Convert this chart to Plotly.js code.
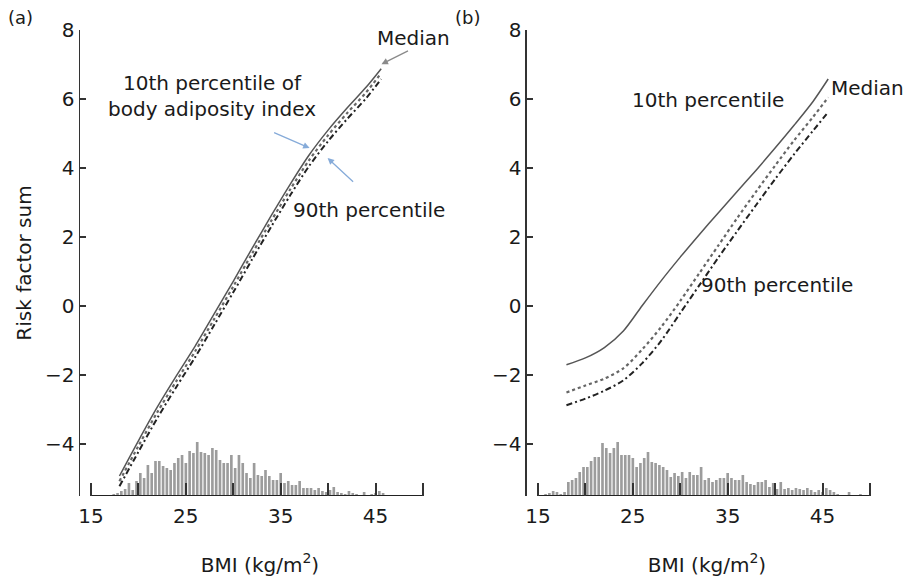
<!DOCTYPE html>
<html><head><meta charset="utf-8">
<script src="https://cdn.plot.ly/plotly-3.0.1.min.js"></script>
<style>html,body{margin:0;padding:0;background:#fff}#chart{width:911px;height:583px}</style>
</head><body><div id="chart"></div>
<script>
// BMI points where the fitted curves are read
const bmiLine = [18, 20, 22, 24, 26, 28, 30, 32, 34, 36, 38, 40, 42, 44, 45.6];
// Panel (a): percentiles of body adiposity index
const a10  = [-4.92, -3.90, -2.92, -2.02, -1.15, -0.22, 0.72, 1.68, 2.62, 3.53, 4.38, 5.10, 5.74, 6.34, 6.88];
const aMed = [-5.07, -4.05, -3.07, -2.17, -1.30, -0.37, 0.57, 1.53, 2.47, 3.38, 4.23, 4.95, 5.59, 6.19, 6.75];
const a90  = [-5.22, -4.22, -3.24, -2.34, -1.47, -0.54, 0.40, 1.36, 2.30, 3.21, 4.06, 4.78, 5.42, 6.02, 6.58];
// Panel (b)
const b10  = [-1.70, -1.50, -1.20, -0.72, 0.02, 0.74, 1.42, 2.07, 2.70, 3.32, 3.94, 4.58, 5.24, 5.93, 6.58];
const bMed = [-2.50, -2.30, -2.10, -1.80, -1.25, -0.60, 0.15, 0.95, 1.75, 2.55, 3.32, 4.07, 4.80, 5.48, 6.05];
const b90  = [-2.87, -2.68, -2.45, -2.15, -1.65, -1.00, -0.20, 0.60, 1.40, 2.17, 2.93, 3.68, 4.40, 5.08, 5.62];

// Histogram of BMI (bin centres and relative counts)
const bmiBins = [15.0, 15.4, 15.8, 16.2, 16.6, 17.0, 17.4, 17.8, 18.2, 18.6,
  19.0, 19.4, 19.8, 20.2, 20.6, 21.0, 21.4, 21.8, 22.2, 22.6,
  23.0, 23.4, 23.8, 24.2, 24.6, 25.0, 25.4, 25.8, 26.2, 26.6,
  27.0, 27.4, 27.8, 28.2, 28.6, 29.0, 29.4, 29.8, 30.2, 30.6,
  31.0, 31.4, 31.8, 32.2, 32.6, 33.0, 33.4, 33.8, 34.2, 34.6,
  35.0, 35.4, 35.8, 36.2, 36.6, 37.0, 37.4, 37.8, 38.2, 38.6,
  39.0, 39.4, 39.8, 40.2, 40.6, 41.0, 41.4, 41.8, 42.2, 42.6,
  43.0, 43.4, 43.8, 44.2, 44.6, 45.0, 45.4, 45.8, 46.2, 46.6,
  47.0, 47.4, 47.8, 48.2, 48.6, 49.0, 49.4, 49.8];
const countsA = [0, 1, 1, 1, 1, 1, 2, 3, 5, 7,
  13, 6, 15, 23, 18, 31, 23, 35, 35, 30,
  28, 26, 33, 38, 41, 33, 45, 43, 54, 44,
  43, 41, 48, 46, 36, 33, 33, 41, 28, 41,
  33, 23, 18, 33, 21, 20, 26, 20, 16, 16,
  23, 13, 15, 11, 11, 15, 8, 8, 8, 6,
  8, 5, 4, 6, 9, 4, 3, 2, 5, 3,
  2, 1, 4, 1, 2, 3, 5, 3, 1, 1,
  1, 0, 1, 0, 1, 0, 0, 1];
const countsB = [0, 1, 2, 3, 5, 4, 2, 4, 14, 16,
  18, 24, 29, 29, 35, 39, 39, 53, 48, 43,
  48, 54, 41, 41, 41, 38, 29, 33, 38, 44,
  34, 33, 31, 29, 26, 19, 23, 20, 24, 18,
  24, 21, 21, 29, 16, 18, 14, 16, 18, 18,
  23, 18, 16, 16, 21, 14, 12, 11, 14, 14,
  16, 9, 13, 7, 14, 7, 8, 6, 8, 7,
  6, 8, 6, 4, 6, 4, 8, 6, 4, 2,
  1, 1, 4, 1, 1, 2, 1, 1];

const xTickVals = [15, 20, 25, 30, 35, 40, 45, 50];
const xTickText = ["15", "", "25", "", "35", "", "45", ""];
const yTickVals = [-4, -2, 0, 2, 4, 6, 8];

const FONT = 'DejaVu Sans, Liberation Sans, Arial, sans-serif';
const TXT = '#1a1a1a';

function panel(xa, ya, yh, counts, y10, yMed, y90) {
  return [
    {type: 'bar', x: bmiBins, y: counts, xaxis: xa, yaxis: yh,
     width: 0.28, marker: {color: '#9c9c9c', line: {width: 0}}, hoverinfo: 'skip'},
    {type: 'scatter', mode: 'lines', x: [xTickVals[0], xTickVals[xTickVals.length - 1]], y: [0, 0],
     xaxis: xa, yaxis: yh, line: {color: '#222', width: 2}, hoverinfo: 'skip'},
    {type: 'scatter', mode: 'lines', x: bmiLine, y: y10, xaxis: xa, yaxis: ya,
     line: {color: '#555', width: 1.5, shape: 'spline', smoothing: 0.8}},
    {type: 'scatter', mode: 'lines', x: bmiLine, y: yMed, xaxis: xa, yaxis: ya,
     line: {color: '#666', width: 2.2, dash: 'dot', shape: 'spline', smoothing: 0.8}},
    {type: 'scatter', mode: 'lines', x: bmiLine, y: y90, xaxis: xa, yaxis: ya,
     line: {color: '#222', width: 2, dash: '6px,3px,2px,3px', shape: 'spline', smoothing: 0.8}}
  ];
}

const data = [].concat(
  panel('x', 'y', 'y3', countsA, a10, aMed, a90),
  panel('x2', 'y2', 'y4', countsB, b10, bMed, b90)
);

function xAxis(domain, anchor) {
  return {
    domain: domain, range: [13.84, 51.8], anchor: anchor,
    tickmode: 'array', tickvals: xTickVals, ticktext: xTickText,
    ticks: 'inside', ticklen: 13, tickwidth: 2, tickcolor: '#333',
    showline: false, zeroline: false, showgrid: false,
    tickfont: {size: 20, color: TXT, family: FONT}, ticklabelstandoff: 6,
    title: {text: 'BMI (kg/m<sup>2</sup>)', font: {size: 20, color: TXT, family: FONT}, standoff: 30}
  };
}
function yAxis(anchor, over, withTitle) {
  const ax = {
    overlaying: over, anchor: anchor, range: [-5.5, 8],
    tickmode: 'array', tickvals: yTickVals,
    ticks: 'inside', ticklen: 6, tickwidth: 1.5, tickcolor: '#333',
    showline: true, linecolor: '#333', linewidth: 1.5,
    zeroline: false, showgrid: false,
    tickfont: {size: 20, color: TXT, family: FONT}
  };
  if (withTitle) ax.title = {text: 'Risk factor sum', font: {size: 20, color: TXT, family: FONT}, standoff: 8};
  return ax;
}
function hAxis(anchor) {
  return {domain: [0, 1], range: [0, 466], anchor: anchor, visible: false, fixedrange: true};
}

const ann = (x, y, text, xref, yref) => ({
  x: x, y: y, text: text, xref: xref, yref: yref, showarrow: false,
  font: {size: 20, color: TXT, family: FONT}
});
const arrow = (x, y, ax, ay, xref, yref, color) => ({
  x: x, y: y, ax: ax, ay: ay, xref: xref, yref: yref, text: '', showarrow: true,
  arrowhead: 2, arrowsize: 1, arrowwidth: 1.3, arrowcolor: color
});

const W = 911 - 80 - 24, H = 583 - 30 - 87;
const letter = (t, px) => ({text: t, xref: 'paper', yref: 'paper', x: (px - 80) / W, y: (583 - 87 - 18) / H,
  showarrow: false, xanchor: 'center', yanchor: 'middle', font: {size: 18, color: TXT, family: FONT}});

const layout = {
  width: 911, height: 583,
  margin: {l: 80, r: 24, t: 30, b: 87},
  paper_bgcolor: '#fff', plot_bgcolor: '#fff',
  showlegend: false,
  font: {family: FONT, color: TXT},
  xaxis: xAxis([0, 0.4461], 'y3'),
  xaxis2: xAxis([0.5539, 1], 'y4'),
  yaxis3: hAxis('x'),
  yaxis4: hAxis('x2'),
  yaxis: yAxis('x', 'y3', true),
  yaxis2: yAxis('x2', 'y4', false),
  annotations: [
    letter('(a)', 20),
    letter('(b)', 467),
    ann(49.05, 7.77, 'Median', 'x', 'y'),
    ann(27.74, 6.09, '10th percentile of<br>body adiposity index', 'x', 'y'),
    ann(44.26, 2.78, '90th percentile', 'x', 'y'),
    arrow(45.63, 7.01, 28, -14, 'x', 'y', '#8a8a8a'),
    arrow(38.05, 4.58, -37, -16, 'x', 'y', '#86abd9'),
    arrow(39.95, 4.29, 27, 25, 'x', 'y', '#86abd9'),
    ann(32.95, 5.97, '10th percentile', 'x2', 'y2'),
    ann(49.74, 6.32, 'Median', 'x2', 'y2'),
    ann(40.24, 0.61, '90th percentile', 'x2', 'y2')
  ]
};

Plotly.newPlot('chart', data, layout, {staticPlot: true, displayModeBar: false});
</script>
</body></html>
